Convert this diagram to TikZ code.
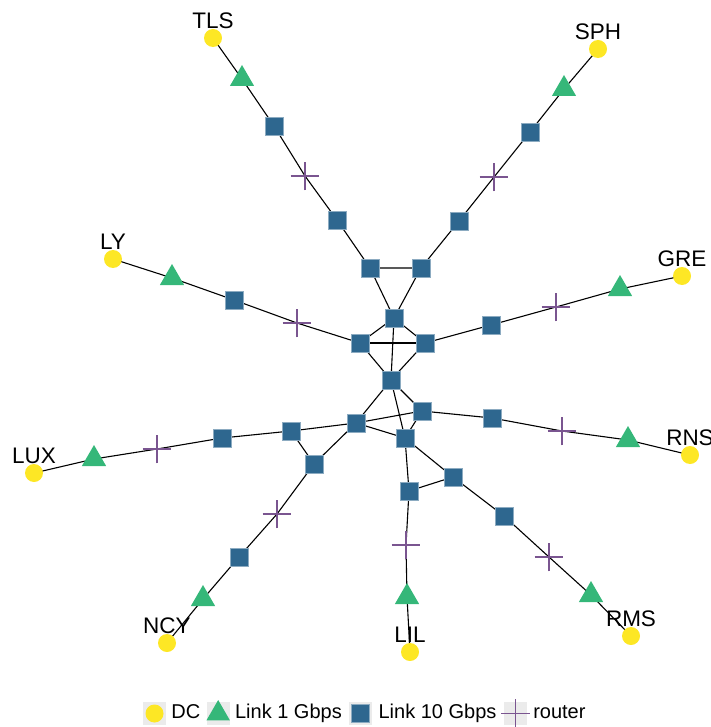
\documentclass[tikz,border=0pt]{standalone}
\usepackage{fontspec}
\setmainfont{Liberation Sans}
\usetikzlibrary{shapes.geometric,shapes.misc,positioning}
\definecolor{dccol}{HTML}{FDE725}
\definecolor{linkonecol}{HTML}{35B779}
\definecolor{linktencol}{HTML}{2E678F}
\definecolor{routercol}{HTML}{7A5590}
\definecolor{keycol}{HTML}{EBEBEB}
\pgfdeclarelayer{background}
\pgfsetlayers{background,main}
\tikzstyle{dc} = [circle, fill=dccol, inner sep=0pt, minimum size=18pt]
\tikzstyle{linkone} = [regular polygon, regular polygon sides=3, fill=linkonecol,
    inner sep=0pt, minimum size=28pt]
\tikzstyle{linkten} = [rectangle, fill=linktencol, draw=linktencol!55!white,
    line width=0.6pt, inner sep=0pt, minimum size=18pt]
\tikzstyle{router} = [cross out, draw=routercol, line width=1.2pt, rotate=45,
    inner sep=0pt, minimum size=19pt]
\tikzstyle{line} = [draw, line width=1.1pt]
\tikzstyle{lbl} = [font=\fontsize{22.5}{27}\selectfont, inner sep=0pt]
\tikzstyle{key} = [rectangle, fill=keycol, inner sep=0pt, minimum size=23pt]
\tikzstyle{legtext} = [font=\fontsize{20}{24}\selectfont, inner sep=0pt,
    text height=14pt, text depth=4pt]

\begin{document}
\begin{tikzpicture}[x=1pt, y=-1pt]
  \useasboundingbox (0,0) rectangle (710,727);
   % Place nodes
    % core
    \node [linkten] (c1) at (370,268) {};
    \node [linkten] (c2) at (421,268) {};
    \node [linkten] (c3) at (394,318) {};
    \node [linkten] (c4) at (360,343) {};
    \node [linkten] (c5) at (425,343) {};
    \node [linkten] (c6) at (391,380) {};
    \node [linkten] (c7) at (422,411) {};
    \node [linkten] (c8) at (356,423) {};
    \node [linkten] (c9) at (405,438) {};
    \node [linkten] (c10) at (453,477) {};
    \node [linkten] (c11) at (409,491) {};
    % TLS
    \node [dc, label={[lbl]above:TLS}] (tls) at (213,38) {};
    \node [linkone] (tlsl) at (242,79) {};
    \node [linkten] (tlss1) at (274,126) {};
    \node [router] (tlsr) at (305,176) {};
    \node [linkten] (tlss2) at (337,220) {};
    % SPH
    \node [dc, label={[lbl]above:SPH}] (sph) at (598,49) {};
    \node [linkone] (sphl) at (564,89) {};
    \node [linkten] (sphs1) at (530,132) {};
    \node [router] (sphr) at (494,177) {};
    \node [linkten] (sphs2) at (459,221) {};
    % LY
    \node [dc, label={[lbl]above:LY}] (ly) at (113,259) {};
    \node [linkone] (lyl) at (172,278) {};
    \node [linkten] (lys) at (234,300) {};
    \node [router] (lyr) at (297,323) {};
    % GRE
    \node [dc, label={[lbl]above:GRE}] (gre) at (682,276) {};
    \node [linkone] (grel) at (620,289) {};
    \node [router] (grer) at (556,307) {};
    \node [linkten] (gres) at (491,325) {};
    % RNS
    \node [dc, label={[lbl]above:RNS}] (rns) at (690,455) {};
    \node [linkone] (rnsl) at (628,440) {};
    \node [router] (rnsr) at (562,431) {};
    \node [linkten] (rnss) at (492,418) {};
    % RMS
    \node [dc, label={[lbl]above:RMS}] (rms) at (631,636) {};
    \node [linkone] (rmsl) at (591,595) {};
    \node [router] (rmsr) at (549,557) {};
    \node [linkten] (rmss) at (504,516) {};
    % LIL
    \node [dc, label={[lbl]above:LIL}] (lil) at (410,652) {};
    \node [linkone] (lill) at (407,597) {};
    \node [router] (lilr) at (406,545) {};
    % NCY
    \node [dc, label={[lbl]above:NCY}] (ncy) at (167,643) {};
    \node [linkone] (ncyl) at (203,599) {};
    \node [linkten] (ncys1) at (239,557) {};
    \node [router] (ncyr) at (277,514) {};
    \node [linkten] (ncys2) at (314,464) {};
    % LUX
    \node [dc, label={[lbl]above:LUX}] (lux) at (34,473) {};
    \node [linkone] (luxl) at (94,459) {};
    \node [router] (luxr) at (157,449) {};
    \node [linkten] (luxs1) at (222,438) {};
    \node [linkten] (luxs2) at (291,431) {};
   % Draw edges
    \begin{pgfonlayer}{background}
    \path [line] (tls.center) -- (tlsl.center) -- (tlss1.center) -- (tlsr.center) -- (tlss2.center) -- (c1.center);
    \path [line] (sph.center) -- (sphl.center) -- (sphs1.center) -- (sphr.center) -- (sphs2.center) -- (c2.center);
    \path [line] (ly.center) -- (lyl.center) -- (lys.center) -- (lyr.center) -- (c4.center);
    \path [line] (gre.center) -- (grel.center) -- (grer.center) -- (gres.center) -- (c5.center);
    \path [line] (rns.center) -- (rnsl.center) -- (rnsr.center) -- (rnss.center) -- (c7.center);
    \path [line] (rms.center) -- (rmsl.center) -- (rmsr.center) -- (rmss.center) -- (c10.center);
    \path [line] (lil.center) -- (lill.center) -- (lilr.center) -- (c11.center);
    \path [line] (ncy.center) -- (ncyl.center) -- (ncys1.center) -- (ncyr.center) -- (ncys2.center) -- (c8.center);
    \path [line] (lux.center) -- (luxl.center) -- (luxr.center) -- (luxs1.center) -- (luxs2.center) -- (c8.center);
    \path [line] (luxs2.center) -- (ncys2.center);
    \path [line] (c1.center) -- (c2.center) -- (c3.center) -- (c1.center);
    \path [line] (c3.center) -- (c4.center) -- (c6.center) -- (c5.center) -- (c3.center) -- (c6.center);
    \path [line] (c4.center) -- (c5.center);
    \path [line] (c6.center) -- (c7.center) -- (c8.center) -- (c6.center) -- (c9.center);
    \path [line] (c7.center) -- (c9.center) -- (c8.center);
    \path [line] (c9.center) -- (c10.center) -- (c11.center) -- (c9.center);
    \end{pgfonlayer}
   % Legend
    \node [key] (k1) at (154.5,713.5) {};
    \node [dc] (k1s) at (k1) {};
    \node [legtext, right=5pt of k1] (t1) {DC};
    \node [key, right=6pt of t1] (k2) {};
    \node [linkone, minimum size=27pt] (k2s) at (k2) {};
    \node [legtext, right=5pt of k2] (t2) {Link 1 Gbps};
    \node [key, right=7pt of t2] (k3) {};
    \node [linkten] (k3s) at (k3) {};
    \node [legtext, right=6pt of k3] (t3) {Link 10 Gbps};
    \node [key, right=7pt of t3] (k4) {};
    \node [router] (k4s) at (k4) {};
    \node [legtext, right=6pt of k4] (t4) {router};
\end{tikzpicture}
\end{document}
